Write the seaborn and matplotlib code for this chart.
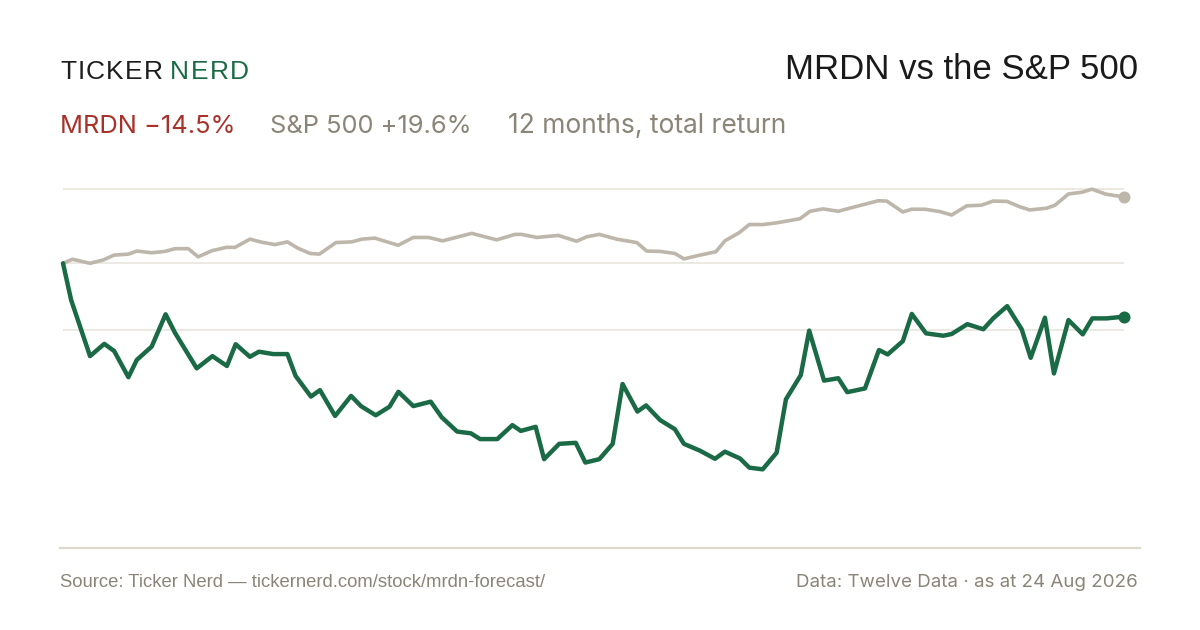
import numpy as np
import pandas as pd
import matplotlib
matplotlib.use("Agg")
import matplotlib.pyplot as plt
import seaborn as sns

# ---- data (days since start, cumulative return %) ----
mrdn_days = [0, 2.8, 9.3, 14.2, 17.6, 22.5, 25.4, 30.5, 35.3, 38.5, 46.0, 51.4, 56.4, 59.4,
             64.3, 67.4, 72.3, 77.2, 80.0, 85.3, 88.4, 93.6, 99.1, 102.5, 107.6, 112.3, 115.4,
             120.5, 126.5, 130.3, 135.6, 140.3, 143.5, 149.4, 154.6, 157.5, 162.6, 165.5, 170.7,
             176.4, 179.7, 184.5, 189.1, 192.5, 197.6, 200.6, 205.4, 210.5, 213.6, 219.1, 224.3,
             227.7, 232.9, 236.1, 240.7, 245.5, 248.7, 253.8, 256.7, 261.8, 266.7, 269.8, 275.9,
             280.7, 283.7, 288.9, 292.0, 296.9, 302.8, 305.7, 311.1, 316.6, 320.0, 324.8, 329.8,
             332.9, 337.8, 340.9, 345.9, 350.8, 354.1, 359.0, 365]
mrdn_ret = [0.0, -10.8, -27.3, -23.7, -25.8, -33.5, -28.4, -24.5, -15.0, -20.4, -30.9, -27.3,
            -30.2, -23.8, -27.5, -26.0, -26.7, -26.7, -33.1, -39.2, -37.3, -44.9, -39.0, -42.0,
            -44.7, -42.2, -37.8, -42.0, -40.7, -45.3, -49.5, -50.0, -51.7, -51.7, -47.6, -49.3,
            -48.1, -57.6, -53.1, -52.8, -58.6, -57.6, -53.1, -35.5, -43.6, -41.8, -46.1, -48.8,
            -53.1, -55.1, -57.5, -55.4, -57.4, -60.1, -60.6, -55.7, -40.0, -32.9, -19.8, -34.5,
            -33.8, -37.9, -36.8, -25.5, -26.8, -22.9, -14.9, -20.6, -21.3, -20.8, -17.9, -19.4,
            -16.2, -12.6, -19.4, -27.8, -16.0, -32.4, -16.7, -20.9, -16.2, -16.2, -15.7]

spx_days = [0, 3.3, 9.3, 13.9, 17.5, 22.5, 25.4, 30.5, 35.1, 38.5, 43.1, 46.5, 51.2, 56.3,
            59.2, 64.3, 68.4, 72.9, 77.2, 80.9, 85.0, 88.2, 93.9, 99.3, 102.8, 107.3, 115.3,
            120.5, 125.7, 130.6, 140.6, 149.2, 155.5, 157.8, 163.0, 170.4, 176.7, 180.2, 184.5,
            190.5, 197.4, 200.8, 205.4, 210.5, 213.6, 219.1, 224.6, 227.7, 232.6, 236.1, 240.9,
            245.5, 253.5, 257.0, 261.5, 266.7, 271.9, 280.5, 283.4, 288.9, 292.0, 296.5, 301.7,
            305.7, 310.9, 316.0, 320.0, 324.8, 329.2, 332.6, 338.4, 341.3, 345.9, 350.5, 354.0,
            358.5, 361.9, 365]
spx_ret = [0.0, 1.2, 0.0, 1.0, 2.4, 2.7, 3.6, 3.1, 3.5, 4.3, 4.3, 1.9, 3.7, 4.7, 4.7, 7.1,
           6.2, 5.5, 6.3, 4.4, 2.9, 2.7, 6.1, 6.3, 7.1, 7.4, 5.3, 7.6, 7.6, 6.6, 8.8, 6.9, 8.5,
           8.5, 7.6, 8.2, 6.5, 7.8, 8.5, 7.1, 6.1, 3.6, 3.5, 2.9, 1.3, 2.4, 3.4, 6.6, 9.0, 11.4,
           11.4, 11.9, 13.1, 15.3, 16.0, 15.3, 16.5, 18.4, 18.3, 15.1, 15.9, 15.9, 15.2, 14.2,
           16.9, 17.1, 18.3, 18.2, 16.6, 15.7, 16.2, 17.1, 20.4, 20.9, 21.8, 20.4, 19.9, 19.6]

grid_levels = [21.8, 0.0, -19.6]

title = "MRDN vs the S&P 500"
brand_a, brand_b = "TICKER", "NERD"
sub_mrdn = "MRDN \u221214.5%"
sub_spx = "S&P 500 +19.6%"
sub_note = "12 months, total return"
foot_left = "Source: Ticker Nerd \u2014 tickernerd.com/stock/mrdn-forecast/"
foot_right = "Data: Twelve Data \u00b7 as at 24 Aug 2026"

GREEN = "#1a6b45"
SAND = "#bdb6aa"
RED = "#a8322a"
MUTED = "#8a8578"
GRID = "#e9e5dd"
BASE = "#ddd8cc"

sns.set_theme(style="white")
plt.rcParams["font.family"] = ["Liberation Sans", "DejaVu Sans"]
UI = ["Inter", "Liberation Sans", "DejaVu Sans"]

W, H = 1200, 630
fig = plt.figure(figsize=(W / 100, H / 100), dpi=100)
fig.patch.set_facecolor("white")

ax = fig.add_axes([60 / W, (H - 548) / H, 1080 / W, (548 - 170) / H])
ax.set_facecolor("white")

df_m = pd.DataFrame({"day": mrdn_days, "ret": mrdn_ret})
df_s = pd.DataFrame({"day": spx_days, "ret": spx_ret})

for g in grid_levels:
    ax.hlines(g, 0, 365, color=GRID, lw=1.2, zorder=1)

sns.lineplot(data=df_s, x="day", y="ret", ax=ax, color=SAND, lw=2.6,
             estimator=None, zorder=3)
sns.lineplot(data=df_m, x="day", y="ret", ax=ax, color=GREEN, lw=3.2,
             estimator=None, zorder=4)
ax.scatter([spx_days[-1]], [spx_ret[-1]], s=75, color=SAND, zorder=5, linewidths=0)
ax.scatter([mrdn_days[-1]], [mrdn_ret[-1]], s=75, color=GREEN, zorder=6, linewidths=0)

px_per_day = 1061 / 365
ax.set_xlim(-3 / px_per_day, 365 + 16 / px_per_day)
k = 3.40
ax.set_ylim((263.3 - 548) / k, (263.3 - 170) / k)

for s in ["top", "left", "right"]:
    ax.spines[s].set_visible(False)
ax.spines["bottom"].set_color(BASE)
ax.spines["bottom"].set_linewidth(1.6)
ax.set_xticks([])
ax.set_yticks([])
ax.set_xlabel("")
ax.set_ylabel("")

def fy(y):
    return 1 - y / H

renderer = fig.canvas.get_renderer()

def tracked(x_px, y_px, s, tracking, **kw):
    x = x_px
    for ch in s:
        t = fig.text(x / W, fy(y_px), ch, va="baseline", ha="left", **kw)
        bb = t.get_window_extent(renderer=renderer)
        x += bb.width + tracking
    return x

tracked(60, 79, brand_a, 1.2, fontsize=19, color="#1e1e1e")
tracked(170, 79, brand_b, 1.4, fontsize=19, color=GREEN)
fig.text(1138 / W, fy(79), title, fontsize=25, color="#1a1a1a", va="baseline", ha="right")

fig.text(60 / W, fy(133), sub_mrdn, fontsize=18.3, color=RED, va="baseline", ha="left", family=UI)
fig.text(270 / W, fy(133), sub_spx, fontsize=18.3, color=MUTED, va="baseline", ha="left", family=UI)
fig.text(508 / W, fy(133), sub_note, fontsize=19, color=MUTED, va="baseline", ha="left", family=UI)

fig.text(60 / W, fy(587), foot_left, fontsize=13.3, color=MUTED, va="baseline", ha="left")
fig.text(1138 / W, fy(587), foot_right, fontsize=13.5, color=MUTED, va="baseline", ha="right", family=UI)

fig.savefig("out.png", dpi=100, facecolor="white")
